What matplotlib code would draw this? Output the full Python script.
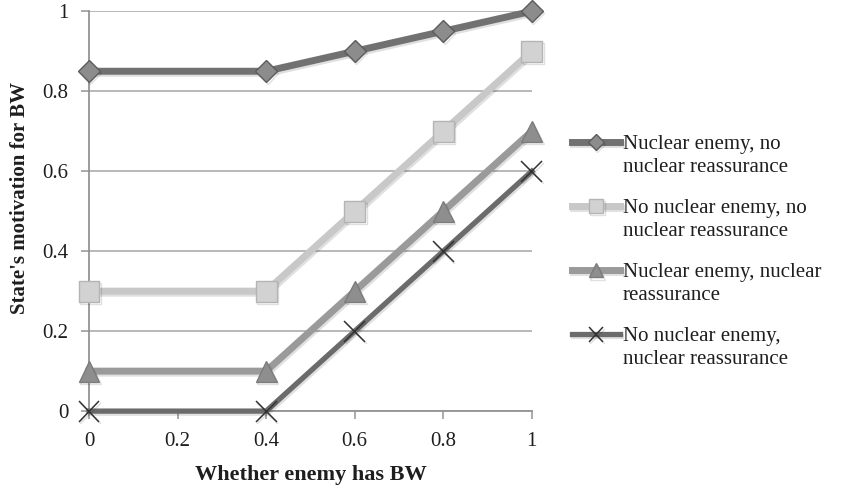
import matplotlib
matplotlib.use('Agg')
import matplotlib.pyplot as plt
import matplotlib.patheffects as pe
from matplotlib.legend_handler import HandlerLine2D

x = [0, 0.4, 0.6, 0.8, 1]
nuc_no_reass = [0.85, 0.85, 0.9, 0.95, 1.0]
nonuc_no_reass = [0.3, 0.3, 0.5, 0.7, 0.9]
nuc_reass = [0.1, 0.1, 0.3, 0.5, 0.7]
nonuc_reass = [0, 0, 0.2, 0.4, 0.6]

labels = ['Nuclear enemy, no\nnuclear reassurance',
          'No nuclear enemy, no\nnuclear reassurance',
          'Nuclear enemy, nuclear\nreassurance',
          'No nuclear enemy,\nnuclear reassurance']
ticks = [0, 0.2, 0.4, 0.6, 0.8, 1]
ticklabels = ['0', '0.2', '0.4', '0.6', '0.8', '1']

plt.rcParams['font.family'] = ['Liberation Serif', 'DejaVu Serif']
txt = '#1e1e1e'


class TopHandler(HandlerLine2D):
    # put the legend line level with the first line of a two-line label
    def create_artists(self, legend, orig_handle, xdescent, ydescent,
                       width, height, fontsize, trans):
        arts = super().create_artists(legend, orig_handle, xdescent, ydescent,
                                      width, height, fontsize, trans)
        for a in arts:
            a.set_ydata([y + fontsize * 0.65 for y in a.get_ydata()])
        return arts


shadow = [pe.SimpleLineShadow(offset=(1, -1.5), shadow_color='#000000', alpha=0.12),
          pe.Normal()]

fig = plt.figure(figsize=(8.5, 4.9), dpi=100)
ax = fig.add_axes([0.1047, 0.161, 0.521, 0.816])

l1, = ax.plot(x, nuc_no_reass, color='#717171', lw=5, marker='D', ms=11,
              mfc='#8c8c8c', mec='#5c5c5c', mew=1, clip_on=False, zorder=3)
l2, = ax.plot(x, nonuc_no_reass, color='#c8c8c8', lw=5, marker='s', ms=15,
              mfc='#d2d2d2', mec='#b4b4b4', mew=1, clip_on=False, zorder=3)
l3, = ax.plot(x, nuc_reass, color='#9a9a9a', lw=5, marker='^', ms=15,
              mfc='#8e8e8e', mec='#7c7c7c', mew=1, clip_on=False, zorder=3)
l4, = ax.plot(x, nonuc_reass, color='#6b6b6b', lw=3.8, marker='x', ms=15,
              mec='#333333', mew=1.1, clip_on=False, zorder=3)
for ln in (l1, l2, l3, l4):
    ln.set_path_effects(shadow)

ax.set_xlim(0, 1)
ax.set_ylim(0, 1)
ax.set_xticks(ticks)
ax.set_xticklabels(ticklabels)
ax.set_yticks(ticks)
ax.set_yticklabels(ticklabels)
ax.yaxis.grid(True, color='#a4a4a4', lw=1.1)
ax.set_axisbelow(True)
for s in ['top', 'right']:
    ax.spines[s].set_visible(False)
for s in ['left', 'bottom']:
    ax.spines[s].set_color('#939393')
    ax.spines[s].set_linewidth(1.3)
ax.tick_params(axis='x', direction='out', length=6, width=1.1, color='#939393',
               labelsize=15, pad=9, labelcolor=txt)
ax.tick_params(axis='y', direction='out', length=6, width=1.1, color='#939393',
               labelsize=15, pad=9, labelcolor=txt)

ax.set_xlabel('Whether enemy has BW', fontsize=16, fontweight='bold',
              labelpad=10, color=txt)
ax.set_ylabel("State's motivation for BW", fontsize=15, fontweight='bold',
              color=txt)
ax.yaxis.set_label_coords(-0.133, 0.532)

leg = fig.legend([l1, l2, l3, l4], labels, loc='upper left',
                 bbox_to_anchor=(0.673, 0.725), borderaxespad=0, borderpad=0,
                 frameon=False, fontsize=15, handlelength=2.3,
                 handletextpad=0.15, labelspacing=1.05, markerscale=0.7,
                 handler_map={matplotlib.lines.Line2D: TopHandler()})
for t in leg.get_texts():
    t.set_color(txt)
    t.set_linespacing(1.3)

fig.savefig('out.png', dpi=100)
